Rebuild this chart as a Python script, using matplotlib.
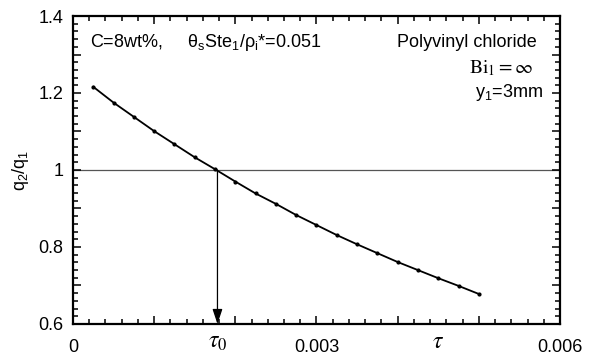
import matplotlib.pyplot as plt
from matplotlib.ticker import MultipleLocator

plt.rcParams["font.family"] = ["Liberation Sans", "DejaVu Sans"]
plt.rcParams["mathtext.fontset"] = "custom"
plt.rcParams["mathtext.rm"] = "Liberation Sans"
plt.rcParams["mathtext.it"] = "Liberation Sans"
plt.rcParams["mathtext.sf"] = "Liberation Sans"

# curve
tau = [0.00025, 0.0005, 0.00075, 0.001, 0.00125, 0.0015, 0.00175, 0.002,
       0.00225, 0.0025, 0.00275, 0.003, 0.00325, 0.0035, 0.00375, 0.004,
       0.00425, 0.0045, 0.00475, 0.005]
q_ratio = [1.216, 1.175, 1.138, 1.101, 1.067, 1.033, 1.002, 0.970,
           0.939, 0.912, 0.883, 0.857, 0.831, 0.807, 0.784, 0.761,
           0.740, 0.719, 0.699, 0.678]
tau0 = 0.00178

y_ticks = [0.6, 0.7, 0.8, 0.9, 1.0, 1.1, 1.2, 1.3, 1.4]
y_labels = ["0.6", "", "0.8", "", "1", "", "1.2", "", "1.4"]
x_ticks = [0, 0.001, 0.002, 0.003, 0.004, 0.005, 0.006]
x_labels = ["0", "", "", "0.003", "", "", "0.006"]

fig = plt.figure(figsize=(5.92, 3.58), dpi=100)
ax = fig.add_axes([0.1233, 0.095, 0.8226, 0.8603])

ax.axhline(1.0, color="#555555", lw=0.9, zorder=1)
ax.annotate("", xy=(tau0, 0.6), xytext=(tau0, 1.0),
            arrowprops=dict(arrowstyle="-|>,head_length=0.9,head_width=0.3",
                            color="black", lw=0.9, shrinkA=0, shrinkB=0))
ax.plot(tau, q_ratio, color="black", lw=1.3, marker="o", ms=2, zorder=3)

ax.set_xlim(0, 0.006)
ax.set_ylim(0.6, 1.4)
ax.set_xticks(x_ticks)
ax.set_xticklabels(x_labels)
ax.set_yticks(y_ticks)
ax.set_yticklabels(y_labels)
ax.xaxis.set_minor_locator(MultipleLocator(0.0002))
ax.yaxis.set_minor_locator(MultipleLocator(0.02))
ax.tick_params(which="both", direction="in", top=True, right=True,
               labelsize=13, width=1.1)
ax.tick_params(which="major", length=6)
ax.tick_params(axis="x", which="major", pad=11)
ax.tick_params(axis="y", which="major", pad=7)
ax.tick_params(which="minor", length=3.5)
for s in ax.spines.values():
    s.set_linewidth(1.6)

ax.text(tau0, -0.06, r"$\tau_0$", transform=ax.get_xaxis_transform(),
        ha="center", va="center", fontsize=17, math_fontfamily="stix")
ax.text(0.0045, -0.06, r"$\tau$", transform=ax.get_xaxis_transform(),
        ha="center", va="center", fontsize=17, math_fontfamily="stix")
ax.set_ylabel(r"q$_2$/q$_1$", fontsize=13, labelpad=5)

ax.text(0.035, 0.915, r"C=8wt%,     $\mathrm{θ}_\mathrm{s}$Ste$_1$/$\mathrm{ρ}_\mathrm{i}$*=0.051",
        transform=ax.transAxes, fontsize=13, va="center", ha="left")
ax.text(0.953, 0.915, "Polyvinyl chloride", transform=ax.transAxes,
        fontsize=13, va="center", ha="right")
ax.text(0.945, 0.83, r"$\mathrm{Bi}_1 = \infty$", transform=ax.transAxes,
        fontsize=14, va="center", ha="right", math_fontfamily="stix")
ax.text(0.966, 0.75, r"y$_1$=3mm", transform=ax.transAxes,
        fontsize=13, va="center", ha="right")

fig.savefig("out.png", dpi=100)
